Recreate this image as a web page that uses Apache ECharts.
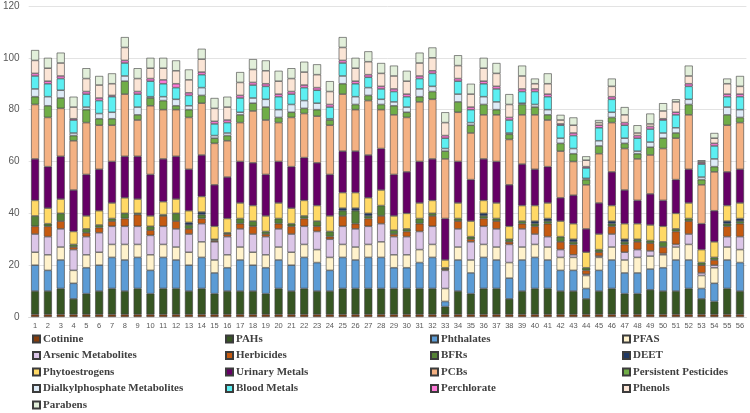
<!DOCTYPE html>
<html>
<head>
<meta charset="utf-8">
<script src="https://cdn.jsdelivr.net/npm/echarts@6/dist/echarts.min.js"></script>
<style>html,body{margin:0;padding:0;background:#fff}#c{width:750px;height:413px}</style>
</head>
<body>
<div id="c"></div>
<script>
const categories = Array.from({length:56},(_, i)=>String(i+1));
const yTicks = [0,20,40,60,80,100,120];

const cotinine = [1,1,1,1,1,1,1,1,1,1,1,1,1,1,1,1,1,1,1,1,1,1,1,1,1,1,1,1,1,1,1,1,1,1,1,1,1,1,1,1,1,1,1,1,1,1,1,1,1,1,1,1,1,1,1,1];
const pahs = [9,9,10,6,8,9,10,9,10,8,10,10,9,10,8,9,9,9,8,10,9,10,9,9,10,10,10,10,10,10,10,10,3,9,8,10,10,6,9,10,10,9,9,6,9,10,8,8,9.5,9,9,10,6,5,10,9];
const phthalates = [10,8,11,6,10,10,12,12,12,9,12,11,10,12,8,9,12,10,10,11,10,12,11,8,12,11,12,12,8,8,10,12,2,12,8,12,11,8,12,12,11,8,8,4,8,11,8,8,8,9,12,11,4,7,11,11];
const pfas = [5,6,5,5,5,5,5,6,5,6,5,5,5,6,5,5,5,5,5,5,5,5,5,5,5,5,5,6,5,5,5,5,5,5,5,5,5,6,5,5,5,5,5,5,5,5,5,6,5,5,5,6,5,6,5,5];
const arsenic = [7,7,7,8,7,7.5,7,7,7,7.5,7,7,7,7,7,7,7,7,7,7,7,7,7,7,7,7,7,7,7,7,7,7,7,7,7,7,7,7,7,4,4,3,1,0.5,0.5,5,3,3,2,0.5,1,4,1,1,4,5];
const herbicides = [3,4,3,1,1.5,2,2,3,4.5,2,4,3,2,2,0.5,1,2,3,1,2,3,3,2,1,4,2,3,3,1,2,3,4,0.5,3,1,3,3,1,2,3,5,3,4,1.5,1.5,3,3,3,3,2.5,5,5,3,2,4,5];
const bfrs = [4,1,3,1,1.5,1,1,2,0.5,1.5,0.5,3,1.5,1.5,0.5,0.5,2,2,1,2,1,1,2,2,2,5,1,4,1.5,1,2,1,0.5,1,1,1,1,1,1,1,1,2,1,1,1,1,1,1,1,2,1,1,1,1,1,1];
const deet = [0,0,0,0,0,0,0,0,0,0,0,0,1,1,0,0,0,0,0,0,0,0,0,0,1,1,1,0,0,0,0,0,0,0,0,1,0,0,0,1,1,0,1,0,0,1,1,0,0,0,0,0,0,0,1,1];
const phytoestrogens = [6,6,5.5,5,5,5.5,6,6,5.5,4,5,5.5,4.5,6,5,5.5,6,6,6,6,6,6,6,6,6,6,6,6,5.5,6,6,5,3,6,6,5,6,5,6,6,6,6,6,6,6,6,6,6,6,6,6,6,5,6,6,6];
const urinaryMetals = [16,16,16.5,16,16,16,16,16,16.5,16,16.5,16.5,16,16,16,16,16,16.5,16,16,16,16.5,16.5,16,16,16,16.5,16,16,16,16,16,16,16,16,16,16,16,16,14,14,9,11,9,12,13,13,9,12,10,13,13,10,12,13,13];
const pcbs = [21,19,18.5,19,20,17,14,24,14,26.5,19,18,20,20,16,14,15,20,21,15,19,17,18,19,22,16,21,15,23,21,23,23,23,19,18,17,18,17.5,19,21,18,18,13,17,19,19,16,16,15,20,16,21,15,15,18,18];
const persistentPesticides = [3,4.5,4,2,5,2.5,2.5,5,2,3,3.5,1.5,3,3,2,2,3,3,5,2,2,2,2.5,2,4,2,2,2,3.5,2,2,3,3,4,3,4,2,2,4,3,2,3,3,2,3,2,2,2,3,4,2,4,2,2,4,2];
const dialkylphosphate = [3,3.5,3,1,1,2,2.5,2,3,0.5,1.5,2.5,1.5,3,1,1,1,2,3,3,3,3,2.5,0.5,3,3,3,2,1.5,2,3,2,1,3,1,3,3,0.5,0.5,1,2,2,2,0.5,2,2,2,1,2,2,2,2,1,3,3,3];
const bloodMetals = [5,5,4.5,5,5,5,6,5,5,6,5,4.5,4,5,4.5,4,5.5,5,5,5,4,5,5,4.5,5,5,4,4,4,4,4,5,4,5,5,5,5,5,4.5,5,5,5,5,4,5,5,5,5,5,5,5,5,5,5,4,5];
const perchlorate = [1,1,1,0.5,1,1,0.5,1,1,1,1.5,1.5,1,1,1,1,1,1,1,1,1,1,1,1,1,1,1,1,1,1,1,1,1,1,1,1,1,1,1,1,1,0.5,1,0.5,1,1,1,1,1,0.5,1,1,0.5,1,1,1];
const phenols = [5,5,5,4.5,5,5,4.5,5,5,4,4.5,5,5,5,5,5,5,5,5,5,5,5,5,5,5,5,5,5,5,5,5,5,5,5,5,5,5,5,5,2,4,1.5,3,2.5,1,4,3,1,1,3,4,3,0.5,2,4,3];
const parabens = [4,4,4,4,4,3.5,4,4,4,4,4,4,4,4,4,4,4,4,4,4,4,4,4,4,4,4,4,4,4,4,4,4,4,4,4,4,4,4,4,2,4,2,3,1.5,1,3,3,3,4,3,1,4,0.5,2,2,4];

const seriesNames = ['Cotinine','PAHs','Phthalates','PFAS','Arsenic Metabolites','Herbicides','BFRs','DEET','Phytoestrogens','Urinary Metals','PCBs','Persistent Pesticides','Dialkylphosphate Metabolites','Blood Metals','Perchlorate','Phenols','Parabens'];
const seriesValues = [cotinine,pahs,phthalates,pfas,arsenic,herbicides,bfrs,deet,phytoestrogens,urinaryMetals,pcbs,persistentPesticides,dialkylphosphate,bloodMetals,perchlorate,phenols,parabens];
const colors = ['#843C0C','#375623','#5B9BD5','#FFF2CC','#DCC6E8','#C55A11','#548235','#1F3864','#FFD966','#660066','#F4B183','#70AD47','#DEEBF7','#5CEFF2','#FF7AD9','#FBE5D6','#E2EFDA'];

const series = seriesNames.map((n,i)=>({
  name:n, type:'bar', stack:'all', barWidth:8,
  itemStyle:{color:colors[i], borderColor:'#3c3c3c', borderWidth:0.6},
  data: seriesValues[i].map(v=> v===0 ? '-' : v)
}));

const legendCols = [
  ['Cotinine','Arsenic Metabolites','Phytoestrogens','Dialkylphosphate Metabolites','Parabens'],
  ['PAHs','Herbicides','Urinary Metals','Blood Metals'],
  ['Phthalates','BFRs','PCBs','Perchlorate'],
  ['PFAS','DEET','Persistent Pesticides','Phenols']
];
const legendLeft = [32, 225, 430, 622];
const legends = legendCols.map((d,i)=>({
  data:d, orient:'vertical', left:legendLeft[i], top:333, padding:0,
  itemWidth:7, itemHeight:7, itemGap:4.5, icon:'rect',
  textStyle:{fontFamily:'Liberation Serif', fontWeight:'bold', fontSize:11, color:'#404040', lineHeight:12, padding:[0,0,0,-2]}
}));

const chart = echarts.init(document.getElementById('c'), null, {renderer:'canvas'});
chart.setOption({
  animation:false,
  legend: legends,
  grid:{left:25.6, right:3.6, top:6, bottom:96},
  xAxis:{type:'category', data:categories,
    axisLine:{show:true, lineStyle:{color:'#d9d9d9'}}, axisTick:{show:false},
    axisLabel:{fontSize:7.5, color:'#595959', margin:5, interval:0, fontFamily:'Liberation Sans'}},
  yAxis:{type:'value', min:0, max:120, interval:20,
    axisLine:{show:false}, axisTick:{show:false},
    splitLine:{lineStyle:{color:'#e3e3e3', width:1}},
    axisLabel:{fontSize:10, color:'#595959', margin:9, fontFamily:'Liberation Sans',
      formatter:v=> yTicks.includes(v) ? String(v) : ''}},
  series: series
});
</script>
</body>
</html>
